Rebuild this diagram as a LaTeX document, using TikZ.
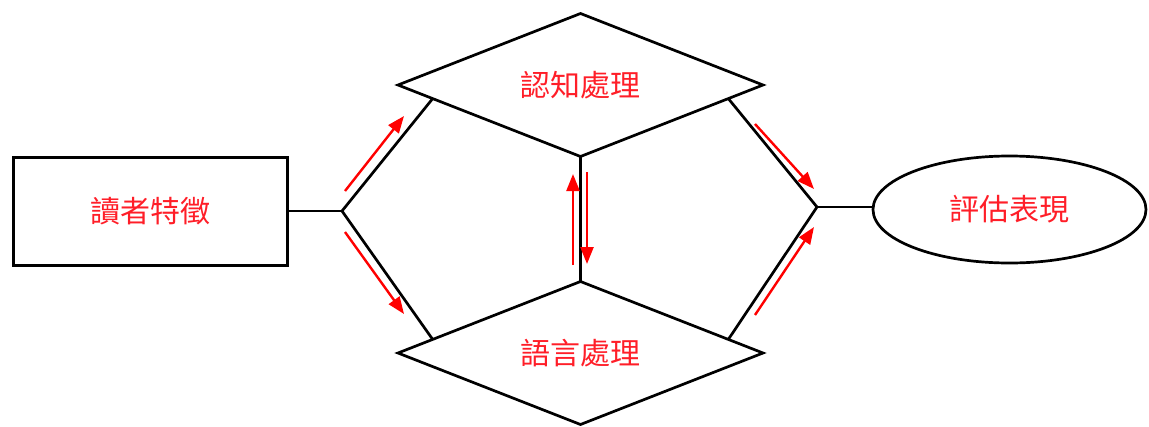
\documentclass[tikz,border=0pt]{standalone}
\usepackage{fontspec}
\newfontfamily\cjk{Noto Sans CJK TC}
\usetikzlibrary{shapes.geometric,arrows.meta,calc}
\definecolor{lbl}{RGB}{255,30,40}
\begin{document}
\begin{tikzpicture}[x=1pt,y=-1pt,
  txt/.style={text=lbl,font=\cjk\fontsize{30}{36}\selectfont,inner sep=0pt,outer sep=0pt},
  rectbox/.style={txt,draw=black,line width=3pt,minimum width=274pt,minimum height=108pt},
  diabox/.style={txt,draw=black,line width=2.7pt,shape=diamond,aspect=2.55,minimum width=365pt,minimum height=143pt},
  ellbox/.style={txt,draw=black,line width=2.7pt,shape=ellipse,minimum width=273pt,minimum height=107pt},
  link/.style={draw=black,line width=2.7pt},
  flow/.style={draw=red,line width=2.4pt,-{Triangle[length=17pt,width=13pt]}}]
\useasboundingbox (0,0) rectangle (1149,426);
\node[rectbox] (reader) at (150,211) {讀者特徵};
\node[diabox] (cog) at (580.5,85) {認知處理};
\node[diabox] (lang) at (580.5,353) {語言處理};
\node[ellbox] (eval) at (1009.5,209.5) {評估表現};
\coordinate (jl) at (342,211);
\coordinate (jr) at (817,207);
\draw[link] (reader.east) -- (jl);
\draw[link] (jl) -- ($(cog.west)!0.19!(cog.south)$);
\draw[link] (jl) -- ($(lang.west)!0.19!(lang.north)$);
\draw[link] (cog.south) -- (lang.north);
\draw[link] (jr) -- ($(cog.east)!0.19!(cog.south)$);
\draw[link] (jr) -- ($(lang.east)!0.19!(lang.north)$);
\draw[link] (jr) -- (jr -| eval.west);
% red flow arrows
\draw[flow] (345,191) -- (404,116);
\draw[flow] (345,232) -- (404,314);
\draw[flow] (755,124) -- (814,189);
\draw[flow] (755,315) -- (814,227);
\draw[flow] (573,265) -- (573,174);
\draw[flow] (587,172) -- (587,264);
\end{tikzpicture}
\end{document}
